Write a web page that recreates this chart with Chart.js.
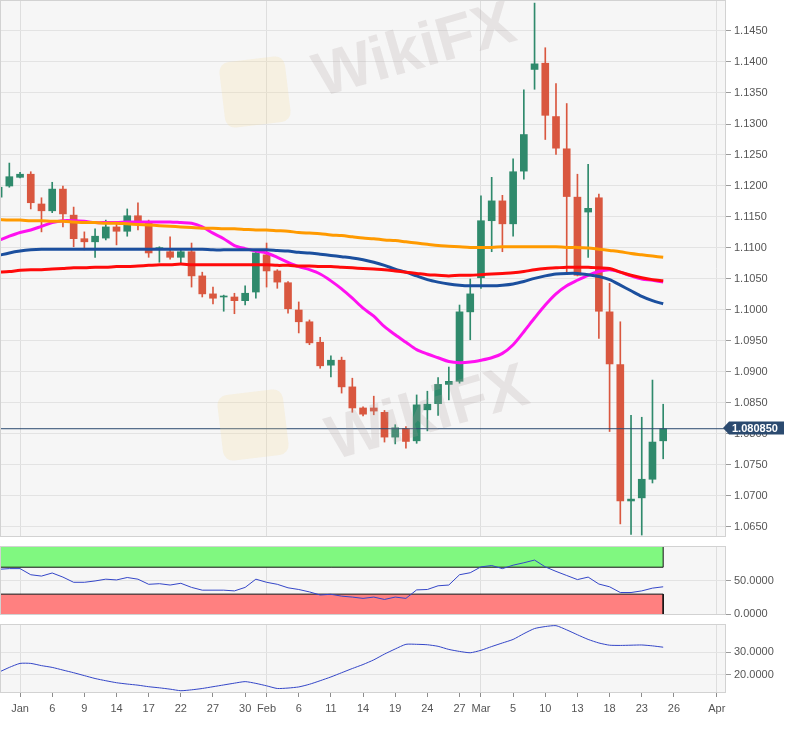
<!DOCTYPE html>
<html>
<head>
<meta charset="utf-8">
<script src="https://cdn.jsdelivr.net/npm/chart.js@4.4.1/dist/chart.umd.min.js"></script>
<style>
  html, body { margin: 0; padding: 0; background: #fff; }
  #wrap { position: relative; width: 795px; height: 729px; overflow: hidden; }
  canvas { position: absolute; left: 0; }
</style>
</head>
<body>
<div id="wrap">
  <canvas id="priceChart" width="795" height="545" style="top:0"></canvas>
  <canvas id="rsiChart" width="795" height="82" style="top:540px"></canvas>
  <canvas id="adxChart" width="795" height="111" style="top:618px"></canvas>
</div>
<script>
// EUR/USD daily, 30 Dec 2019 .. 25 Mar 2020
const dates = [
  '2019-12-30','2019-12-31','2020-01-01','2020-01-02','2020-01-03','2020-01-06','2020-01-07','2020-01-08','2020-01-09','2020-01-10',
  '2020-01-13','2020-01-14','2020-01-15','2020-01-16','2020-01-17','2020-01-20','2020-01-21','2020-01-22','2020-01-23','2020-01-24',
  '2020-01-27','2020-01-28','2020-01-29','2020-01-30','2020-01-31','2020-02-03','2020-02-04','2020-02-05','2020-02-06','2020-02-07',
  '2020-02-10','2020-02-11','2020-02-12','2020-02-13','2020-02-14','2020-02-17','2020-02-18','2020-02-19','2020-02-20','2020-02-21',
  '2020-02-24','2020-02-25','2020-02-26','2020-02-27','2020-02-28','2020-03-02','2020-03-03','2020-03-04','2020-03-05','2020-03-06',
  '2020-03-09','2020-03-10','2020-03-11','2020-03-12','2020-03-13','2020-03-16','2020-03-17','2020-03-18','2020-03-19','2020-03-20',
  '2020-03-23','2020-03-24','2020-03-25'
];
const opens = [
  1.1182,1.1200,1.1214,1.1219,1.1171,1.1160,1.1195,1.1153,1.1115,1.1110,
  1.1116,1.1134,1.1127,1.1152,1.1142,1.1099,1.1094,1.1085,1.1094,1.1055,
  1.1026,1.1021,1.1021,1.1015,1.1029,1.1089,1.1063,1.1044,1.1000,1.0981,
  1.0948,1.0911,1.0919,1.0876,1.0842,1.0842,1.0835,1.0795,1.0809,1.0789,
  1.0839,1.0849,1.0880,1.0885,1.0997,1.1052,1.1144,1.1176,1.1139,1.1224,
  1.1388,1.1398,1.1312,1.1260,1.1182,1.1158,1.1181,1.0997,1.0912,1.0692,
  1.0697,1.0727,1.0789
];
const highs = [
  1.1205,1.1237,1.1222,1.1223,1.1181,1.1206,1.1200,1.1166,1.1126,1.1131,
  1.1145,1.1142,1.1163,1.1173,1.1145,1.1102,1.1118,1.1097,1.1108,1.1061,
  1.1037,1.1024,1.1027,1.1039,1.1094,1.1108,1.1065,1.1046,1.1013,1.0984,
  1.0956,1.0926,1.0924,1.0890,1.0844,1.0861,1.0838,1.0815,1.0812,1.0863,
  1.0869,1.0891,1.0908,1.1008,1.1050,1.1184,1.1214,1.1185,1.1244,1.1355,
  1.1495,1.1423,1.1365,1.1333,1.1219,1.1235,1.1187,1.1043,1.0981,1.0830,
  1.0827,1.0887,1.0848
];
const lows = [
  1.1175,1.1198,1.1213,1.1163,1.1126,1.1157,1.1134,1.1102,1.1097,1.1085,
  1.1113,1.1105,1.1119,1.1129,1.1085,1.1077,1.1082,1.1076,1.1037,1.1021,
  1.1010,1.0998,1.0994,1.1008,1.1019,1.1037,1.1035,1.0995,1.0963,1.0944,
  1.0906,1.0892,1.0866,1.0835,1.0829,1.0831,1.0787,1.0784,1.0777,1.0785,
  1.0805,1.0830,1.0855,1.0882,1.0952,1.1035,1.1094,1.1094,1.1119,1.1211,
  1.1356,1.1275,1.1251,1.1058,1.1055,1.1085,1.0954,1.0804,1.0655,1.0638,
  1.0637,1.0721,1.0760
];
const closes = [
  1.1198,1.1215,1.1219,1.1173,1.1160,1.1195,1.1155,1.1115,1.1110,1.1119,
  1.1134,1.1127,1.1152,1.1142,1.1092,1.1100,1.1085,1.1094,1.1055,1.1026,
  1.1019,1.1022,1.1015,1.1027,1.1092,1.1063,1.1045,1.1002,1.0981,1.0947,
  1.0910,1.0919,1.0876,1.0842,1.0832,1.0837,1.0795,1.0810,1.0788,1.0847,
  1.0848,1.0880,1.0885,1.0997,1.1026,1.1144,1.1176,1.1139,1.1223,1.1283,
  1.1397,1.1314,1.1261,1.1183,1.1056,1.1164,1.0998,1.0913,1.0692,1.0695,
  1.0727,1.0787,1.080850
];

// moving averages
const sma20 = [
  1.1112,1.1119,1.1125,1.1129,1.1135,1.1141,1.1144,1.1144,1.1143,1.1141,
  1.1141,1.1141,1.1142,1.1142,1.1142,1.1142,1.1142,1.1141,1.1140,1.1134,
  1.1124,1.1115,1.1104,1.1099,1.1095,1.1092,1.1085,1.1077,1.1070,1.1065,
  1.1058,1.1047,1.1034,1.1019,1.1003,1.0990,1.0973,1.0960,1.0948,1.0936,
  1.0929,1.0923,1.0917,1.0915,1.0916,1.0919,1.0923,1.0930,1.0944,1.0965,
  1.0987,1.1008,1.1026,1.1039,1.1048,1.1056,1.1062,1.1065,1.1061,1.1055,
  1.1050,1.1048,1.1045
];
const sma50 = [
  1.1088,1.1092,1.1095,1.1097,1.1098,1.1098,1.1098,1.1098,1.1098,1.1098,
  1.1098,1.1098,1.1098,1.1098,1.1098,1.1098,1.1098,1.1098,1.1098,1.1098,
  1.1097,1.1097,1.1097,1.1097,1.1097,1.1097,1.1096,1.1095,1.1093,1.1092,
  1.1090,1.1088,1.1086,1.1084,1.1081,1.1077,1.1072,1.1066,1.1061,1.1055,
  1.1049,1.1045,1.1042,1.1040,1.1039,1.1039,1.1039,1.1040,1.1042,1.1046,
  1.1051,1.1055,1.1058,1.1059,1.1059,1.1057,1.1054,1.1049,1.1040,1.1031,
  1.1022,1.1015,1.1010
];
const sma100 = [
  1.1061,1.1062,1.1064,1.1065,1.1065,1.1066,1.1067,1.1068,1.1068,1.1069,
  1.1069,1.1070,1.1070,1.1071,1.1072,1.1073,1.1073,1.1074,1.1073,1.1073,
  1.1073,1.1073,1.1073,1.1073,1.1073,1.1073,1.1072,1.1072,1.1071,1.1071,
  1.1070,1.1070,1.1069,1.1068,1.1067,1.1066,1.1065,1.1063,1.1061,1.1059,
  1.1057,1.1056,1.1055,1.1056,1.1056,1.1057,1.1058,1.1059,1.1060,1.1062,
  1.1065,1.1067,1.1068,1.1069,1.1069,1.1069,1.1068,1.1067,1.1061,1.1056,
  1.1052,1.1049,1.1047
];
const sma200 = [
  1.1146,1.1145,1.1145,1.1144,1.1144,1.1143,1.1143,1.1142,1.1141,1.1141,
  1.1140,1.1140,1.1139,1.1138,1.1137,1.1136,1.1135,1.1134,1.1133,1.1132,
  1.1132,1.1131,1.1131,1.1130,1.1129,1.1129,1.1128,1.1127,1.1125,1.1124,
  1.1123,1.1121,1.1120,1.1118,1.1116,1.1115,1.1113,1.1112,1.1110,1.1108,
  1.1106,1.1104,1.1103,1.1102,1.1101,1.1101,1.1101,1.1102,1.1102,1.1102,
  1.1102,1.1102,1.1102,1.1101,1.1101,1.1100,1.1098,1.1096,1.1094,1.1091,
  1.1089,1.1087,1.1085
];

const rsi = [
  66.9,67.9,67.9,58.8,56.8,61.4,55.3,47.6,47.6,49.6,
  52.2,51.1,54.7,52.2,44.6,45.5,43.5,46.1,40.0,35.9,
  35.9,35.9,34.8,40.0,52.2,47.6,44.6,39.4,36.9,33.3,
  28.7,29.8,27.0,25.6,23.7,25.6,22.1,25.6,23.7,36.3,
  36.9,42.4,43.5,58.8,61.8,70.5,72.5,67.9,73.0,76.6,
  80.6,70.5,63.8,57.7,51.6,55.3,45.0,40.9,32.4,32.4,
  34.8,38.9,40.9
];
const adx = [
  21.0,23.2,25.0,25.0,24.0,23.2,22.0,20.8,19.5,18.2,
  17.2,16.3,15.7,15.2,14.5,14.0,13.4,12.7,13.1,13.7,
  14.5,15.3,16.1,16.8,16.0,14.9,13.7,13.9,14.4,15.6,
  17.2,18.9,20.8,22.7,24.5,26.6,29.2,31.5,33.6,33.6,
  33.4,32.7,31.3,30.4,29.8,30.9,32.6,34.2,35.8,38.4,
  40.7,41.6,42.0,40.1,37.9,35.8,34.2,33.2,33.1,33.2,
  33.3,32.9,32.3
];
const RSI_HIGH = 70;
const RSI_LOW = 30;

// x axis: trading-day number, 1 Jan 2020 = 0
const tickDays   = [0, 3, 6, 9, 12, 15, 18, 21, 23, 26, 29, 32, 35, 38, 41, 43, 46, 49, 52, 55, 58, 61, 65];
const tickLabels = ['Jan','6','9','14','17','22','27','30','Feb','6','11','14','19','24','27','Mar','5','10','13','18','23','26','Apr'];
const monthDays  = [0, 23, 43, 65];
const priceTicks = [1.0650,1.0700,1.0750,1.0800,1.0850,1.0900,1.0950,1.1000,1.1050,1.1100,1.1150,1.1200,1.1250,1.1300,1.1350,1.1400,1.1450];
const rsiTicks = [0, 50];
const adxTicks = [20, 30];

const FIRST_DAY = -2;
const X_MIN = -1.87, X_MAX = 65.86;
const days = dates.map((d, i) => i + FIRST_DAY);
const lastDay = days[days.length - 1];
const lastPrice = closes[closes.length - 1];

const GREEN = '#2f8a6c';
const RED = '#d9573f';
const FONT = { family: '"Liberation Sans", Arial, sans-serif', size: 11 };

const candleColors = closes.map((c, i) => c >= opens[i] ? GREEN : RED);

function xAxis(showLabels) {
  return {
    type: 'linear', min: X_MIN, max: X_MAX, offset: false,
    afterBuildTicks: s => { s.ticks = tickDays.map(v => ({ value: v })); },
    afterFit: s => { s.height = showLabels ? 36 : 0; s.paddingLeft = 0; s.paddingRight = 0; },
    grid: {
      offset: false,
      color: c => (c.tick && monthDays.includes(c.tick.value)) ? '#dedede' : 'rgba(0,0,0,0)',
      drawTicks: showLabels, tickLength: 4, tickColor: '#8c8c8c'
    },
    border: { display: false },
    ticks: {
      display: showLabels, autoSkip: false, maxRotation: 0, minRotation: 0, padding: 5,
      color: '#555', font: FONT, callback: (v, i) => tickLabels[i]
    }
  };
}

function yAxis(min, max, keep) {
  return {
    position: 'right', min, max,
    afterBuildTicks: s => { s.ticks = keep.map(v => ({ value: v })); },
    afterFit: s => { s.width = 69; s.paddingTop = 0; s.paddingBottom = 0; },
    grid: { color: '#e3e3e3', tickColor: '#9a9a9a', tickLength: 5 },
    border: { display: false },
    ticks: { padding: 3, color: '#555', font: FONT, callback: v => Number(v).toFixed(4) }
  };
}

const panelFrame = {
  id: 'panelFrame',
  beforeDraw(chart) {
    const a = chart.chartArea, c = chart.ctx;
    c.save();
    c.fillStyle = '#f6f6f6';
    c.fillRect(a.left, a.top, a.right - a.left, a.bottom - a.top);
    c.restore();
  },
  afterDraw(chart) {
    const a = chart.chartArea, c = chart.ctx;
    c.save();
    c.strokeStyle = '#d2d2d2';
    c.lineWidth = 1;
    c.strokeRect(a.left + 0.5, a.top + 0.5, a.right - a.left - 1, a.bottom - a.top - 1);
    c.restore();
  }
};

const watermark = {
  id: 'watermark',
  afterDatasetsDraw(chart) {
    const c = chart.ctx;
    [[255, 92, 415, 52], [253, 425, 428, 415]].forEach(([lx, ly, tx, ty]) => {
      c.save();
      c.translate(lx, ly);
      c.rotate(-0.12);
      c.fillStyle = 'rgba(248, 220, 150, 0.22)';
      c.beginPath();
      c.roundRect(-33, -33, 66, 66, 10);
      c.fill();
      c.restore();
      c.save();
      c.translate(tx, ty);
      c.rotate(-0.28);
      c.font = 'bold 62px "Liberation Sans", Arial, sans-serif';
      c.textAlign = 'center';
      c.textBaseline = 'middle';
      c.fillStyle = 'rgba(175, 160, 160, 0.22)';
      c.fillText('WikiFX', 0, 0);
      c.restore();
    });
  }
};

const priceTag = {
  id: 'priceTag',
  afterDraw(chart) {
    const c = chart.ctx;
    const y = Math.round(chart.scales.y.getPixelForValue(lastPrice)) - 1;
    const x = chart.chartArea.right - 3;
    c.save();
    c.fillStyle = '#2b4a6f';
    c.beginPath();
    c.moveTo(x, y);
    c.lineTo(x + 6, y - 6.5);
    c.lineTo(x + 61, y - 6.5);
    c.lineTo(x + 61, y + 6.5);
    c.lineTo(x + 6, y + 6.5);
    c.closePath();
    c.fill();
    c.fillStyle = '#fff';
    c.font = 'bold 11px "Liberation Sans", Arial, sans-serif';
    c.textBaseline = 'middle';
    c.fillText(lastPrice.toFixed(6), x + 9, y + 0.5);
    c.restore();
  }
};

function maLine(values, color, order) {
  return {
    type: 'line', data: days.map((d, i) => ({ x: d, y: values[i] })),
    borderColor: color, borderWidth: 3, pointRadius: 0, tension: 0.3, order
  };
}

new Chart(document.getElementById('priceChart'), {
  type: 'bar',
  data: {
    datasets: [
      {
        type: 'line', data: [{ x: X_MIN, y: lastPrice }, { x: X_MAX, y: lastPrice }],
        borderColor: '#2b4a6f', borderWidth: 1, pointRadius: 0, order: 0
      },
      maLine(sma200, '#ff9a00', 1),
      maLine(sma100, '#ff0a0a', 1),
      maLine(sma50, '#1b4f9e', 1),
      maLine(sma20, '#ff10f0', 1),
      {
        data: days.map((d, i) => ({ x: d, y: [opens[i], closes[i]] })),
        backgroundColor: candleColors, barThickness: 7, minBarLength: 1, grouped: false, order: 2
      },
      {
        data: days.map((d, i) => ({ x: d, y: [lows[i], highs[i]] })),
        backgroundColor: candleColors, barThickness: 1, grouped: false, order: 3
      }
    ]
  },
  options: {
    responsive: false, animation: false,
    layout: { padding: { top: 0, bottom: 8, left: 0, right: 0 } },
    plugins: { legend: { display: false }, tooltip: { enabled: false } },
    scales: {
      x: xAxis(false),
      y: yAxis(1.15 - 537 / 6200, 1.15, priceTicks)
    }
  },
  plugins: [panelFrame, watermark, priceTag]
});

new Chart(document.getElementById('rsiChart'), {
  type: 'line',
  data: {
    datasets: [
      {
        data: days.map((d, i) => ({ x: d, y: rsi[i] })),
        borderColor: '#3446c8', borderWidth: 1, pointRadius: 0, tension: 0, order: 0
      },
      {
        data: [{ x: days[0], y: RSI_HIGH }, { x: lastDay, y: RSI_HIGH }, { x: lastDay, y: 100 }],
        fill: { value: 100 }, backgroundColor: '#80f880', borderColor: '#111', borderWidth: 1, pointRadius: 0, order: 1
      },
      {
        data: [{ x: days[0], y: RSI_LOW }, { x: lastDay, y: RSI_LOW }, { x: lastDay, y: 0 }],
        fill: { value: 0 }, backgroundColor: '#ff8080', borderColor: '#111', borderWidth: 1, pointRadius: 0, order: 1
      }
    ]
  },
  options: {
    responsive: false, animation: false,
    layout: { padding: { top: 6, bottom: 7, left: 0, right: 0 } },
    plugins: { legend: { display: false }, tooltip: { enabled: false } },
    scales: { x: xAxis(false), y: yAxis(-1, 101.5, rsiTicks) }
  },
  plugins: [panelFrame]
});

new Chart(document.getElementById('adxChart'), {
  type: 'line',
  data: {
    datasets: [{
      data: days.map((d, i) => ({ x: d, y: adx[i] })),
      borderColor: '#3446c8', borderWidth: 1, pointRadius: 0, tension: 0.2
    }]
  },
  options: {
    responsive: false, animation: false,
    layout: { padding: { top: 6, bottom: 0, left: 0, right: 0 } },
    plugins: { legend: { display: false }, tooltip: { enabled: false } },
    scales: { x: xAxis(true), y: yAxis(11.67, 42.75, adxTicks) }
  },
  plugins: [panelFrame]
});
</script>
</body>
</html>
